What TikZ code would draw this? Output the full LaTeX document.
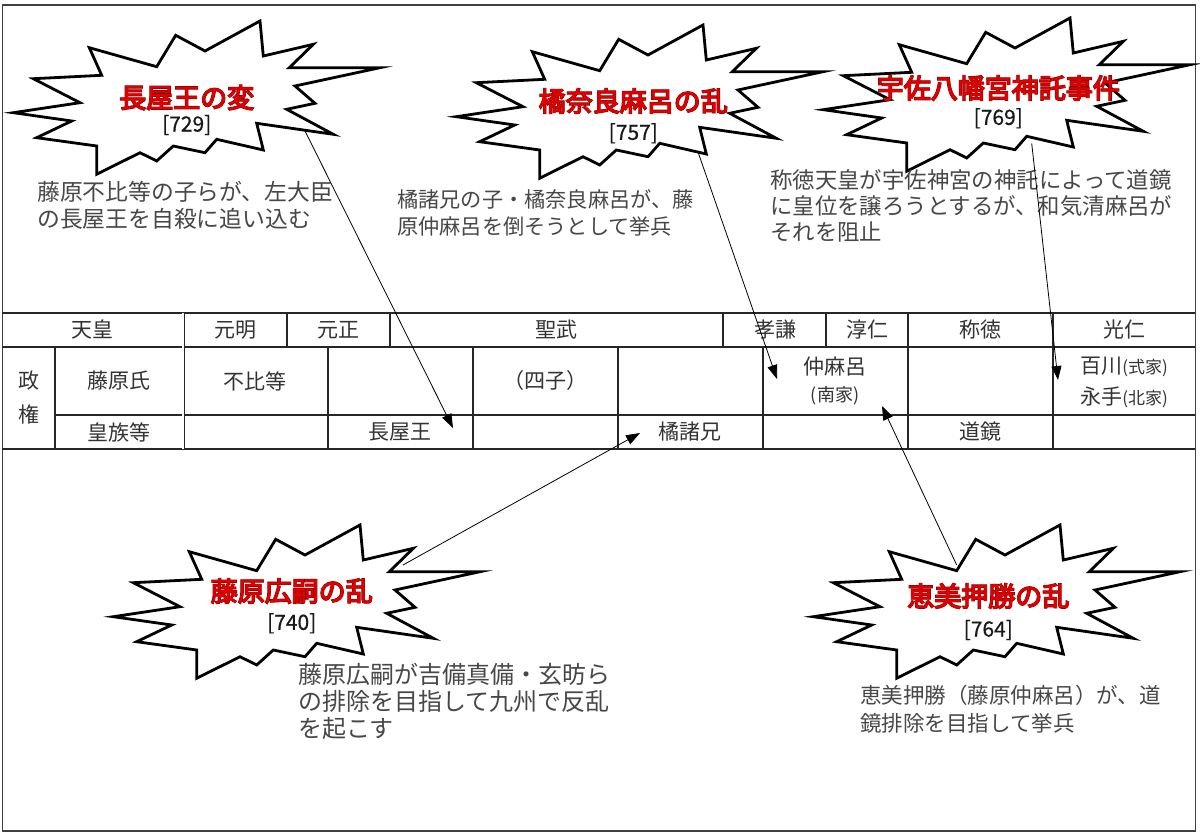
\documentclass[tikz,border=0pt]{standalone}
\usepackage{fontspec}
\usetikzlibrary{arrows.meta}
\newfontfamily\jp{Noto Sans CJK JP}
\newfontfamily\ttlout{Noto Sans CJK JP}[FakeBold=5.5]
\newfontfamily\ttlin{Noto Sans CJK JP}[FakeBold=2.5]
\newfontfamily\yr{Noto Sans CJK JP}[FakeBold=0.6]
\definecolor{ttlred}{HTML}{E00000}
\definecolor{ttldark}{HTML}{700000}
\definecolor{bodygray}{HTML}{474747}
\definecolor{framegray}{HTML}{404040}
\tikzset{
  body/.style={anchor=west, align=left, text=bodygray, inner sep=0pt},
  cell/.style={text=black!80, font=\jp\fontsize{21}{25}\selectfont, inner sep=0pt},
  ttlA/.style={text=ttldark, font=\ttlout\fontsize{27}{29}\selectfont, inner sep=0pt},
  ttlB/.style={text=ttlred, font=\ttlin\fontsize{27}{29}\selectfont, inner sep=0pt},
  year/.style={text=black!90, font=\yr\fontsize{21}{23}\selectfont, inner sep=0pt},
  burst/.style={draw=black, line width=2.8pt, fill=white, line join=miter, miter limit=20},
  conn/.style={line width=0.8pt, -{Triangle[length=14pt,width=10pt]}},
  grid/.style={line width=1.1pt, black!85},
  frame/.style={line width=1.8pt, draw=framegray},
  burstpic/.pic={
    \draw[burst] (133.3,582.7) -- (201.7,579.3) -- (189.3,551.7) -- (256.7,570.7)
      -- (275.7,539.3) -- (305,555) -- (360,525) -- (363.3,560) -- (413.3,548.3)
      -- (389.3,571.7) -- (480,571.7) -- (395,590) -- (415,607.3) -- (386.7,613.3)
      -- (433.3,638.3) -- (356.7,627.3) -- (363.3,654) -- (316.7,643.3) -- (305,656.7)
      -- (273.3,650) -- (256.7,665) -- (240,656.7) -- (196.7,678.3) -- (196.7,650)
      -- (136.7,641.7) -- (171.7,625) -- (113.3,616.7) -- (180,606.7) -- cycle;
  }
}
\begin{document}
\begin{tikzpicture}[x=1pt,y=-1pt]
\useasboundingbox (0,0) rectangle (1200,835);
\fill[white] (0,0) rectangle (1200,835);
\draw[frame] (2.5,5) rectangle (1195.5,831);

% starbursts
\pic at (-100,-504) {burstpic};
\pic at (343,-500) {burstpic};
\pic at (710,-507) {burstpic};
\pic at (0,0) {burstpic};
\pic at (700,0) {burstpic};

% table
\draw[grid] (2,313) -- (1195,313);
\draw[grid] (2,347) -- (1195,347);
\draw[grid] (55,415) -- (1195,415);
\draw[grid] (2,449) -- (1195,449);
\draw[grid, double, double distance=1.6pt, line width=0.7pt] (183,313) -- (183,449);
\foreach \x in {287,390,723,826} \draw[grid] (\x,313) -- (\x,347);
\foreach \x in {908,1053} \draw[grid] (\x,313) -- (\x,449);
\foreach \x in {55,328,473,618,763} \draw[grid] (\x,347) -- (\x,449);

\node[cell] (tenno) at (92,330) {天皇};
\node[cell] (genmei) at (235,330) {元明};
\node[cell] (gensho) at (338,330) {元正};
\node[cell] (shomu) at (556,330) {聖武};
\node[cell] (koken) at (775,330) {孝謙};
\node[cell] (junnin) at (867,330) {淳仁};
\node[cell] (shotoku) at (980,330) {称徳};
\node[cell] (konin) at (1124,330) {光仁};

\node[cell] (sei) at (29,381) {政};
\node[cell] (ken) at (29,414) {権};
\node[cell] (fujiwara) at (119,381) {藤原氏};
\node[cell] (kozoku) at (119,432) {皇族等};
\node[cell] (fuhito) at (255,381) {不比等};
\node[cell] (shishi) at (545,381) {（四子）};
\node[cell] (naka) at (835,367) {仲麻呂};
\node[cell, font=\jp\fontsize{18}{20}\selectfont] (nanke) at (835,396) {(南家)};
\node[cell] (momo) at (1124,367) {百川{\fontsize{17}{20}\selectfont(式家)}};
\node[cell] (naga) at (1124,397) {永手{\fontsize{17}{20}\selectfont(北家)}};
\node[cell] (nagaya) at (400,432) {長屋王};
\node[cell] (moroe) at (690,432) {橘諸兄};
\node[cell] (dokyo) at (980,432) {道鏡};

% descriptions
\node[body, font=\jp\fontsize{22.8}{27}\selectfont] (d1) at (37,205) {藤原不比等の子らが、左大臣\\の長屋王を自殺に追い込む};
\node[body, font=\jp\fontsize{21.2}{27}\selectfont] (d2) at (397,213) {橘諸兄の子・橘奈良麻呂が、藤\\原仲麻呂を倒そうとして挙兵};
\node[body, font=\jp\fontsize{22.4}{26}\selectfont] (d3) at (770,206) {称徳天皇が宇佐神宮の神託によって道鏡\\に皇位を譲ろうとするが、和気清麻呂が\\それを阻止};
\node[body, font=\jp\fontsize{24}{27}\selectfont] (d4) at (298,701) {藤原広嗣が吉備真備・玄昉ら\\の排除を目指して九州で反乱\\を起こす};
\node[body, font=\jp\fontsize{21.5}{28}\selectfont] (d5) at (860,709) {恵美押勝（藤原仲麻呂）が、道\\鏡排除を目指して挙兵};

% titles
\node[ttlA] (t1o) at (186.7,97.5) {長屋王の変};
\node[ttlB] (t1) at (186.7,97.5) {長屋王の変};
\node[year] (y1) at (186.7,125) {[729]};
\node[ttlA] (t2o) at (633.3,101) {橘奈良麻呂の乱};
\node[ttlB] (t2) at (633.3,101) {橘奈良麻呂の乱};
\node[year] (y2) at (633.3,133.3) {[757]};
\node[ttlA] (t3o) at (998.3,88) {宇佐八幡宮神託事件};
\node[ttlB] (t3) at (998.3,88) {宇佐八幡宮神託事件};
\node[year] (y3) at (998.3,118.3) {[769]};
\node[ttlA] (t4o) at (291.7,591) {藤原広嗣の乱};
\node[ttlB] (t4) at (291.7,591) {藤原広嗣の乱};
\node[year] (y4) at (291.7,623.3) {[740]};
\node[ttlA] (t5o) at (988.3,596) {恵美押勝の乱};
\node[ttlB] (t5) at (988.3,596) {恵美押勝の乱};
\node[year] (y5) at (988.3,630) {[764]};

% connectors
\coordinate (a1s) at (305,131);   \coordinate (a1e) at (453,428);
\coordinate (a2s) at (698,152);   \coordinate (a2e) at (777,379);
\coordinate (a3s) at (1031.7,143.3); \coordinate (a3e) at (1058,380);
\coordinate (a4s) at (403,565);   \coordinate (a4e) at (640,433);
\coordinate (a5s) at (956.7,565); \coordinate (a5e) at (882,406);
\draw[conn] (a1s) -- (a1e);
\draw[conn] (a2s) -- (a2e);
\draw[conn] (a3s) -- (a3e);
\draw[conn] (a4s) -- (a4e);
\draw[conn] (a5s) -- (a5e);
\end{tikzpicture}
\end{document}
